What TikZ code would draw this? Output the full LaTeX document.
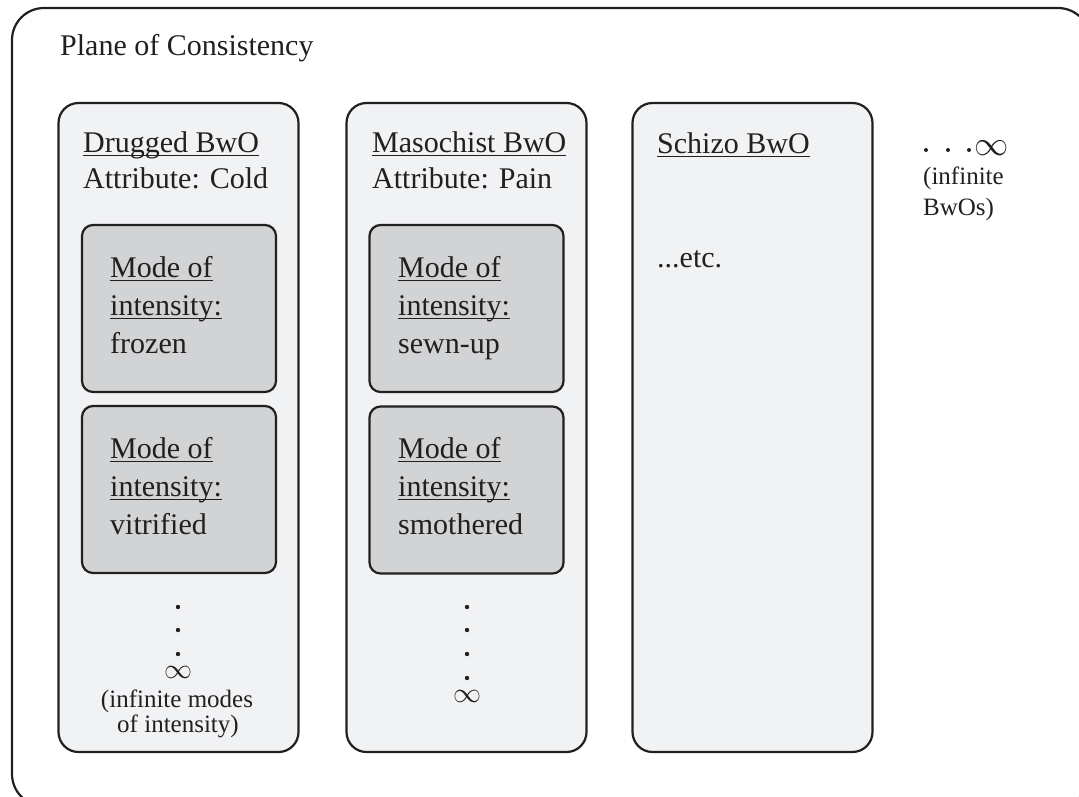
\documentclass[tikz,border=0pt]{standalone}
\usepackage{fontspec}
\setmainfont{Liberation Serif}
\usetikzlibrary{positioning}
\definecolor{ink}{HTML}{231F20}
\definecolor{bwofill}{HTML}{F1F2F4}
\definecolor{modefill}{HTML}{D1D3D4}
\newsavebox\ulbox
\newcommand\bwoul[1]{\sbox\ulbox{#1}\rlap{\color{ink}\rule[-4pt]{\wd\ulbox}{1.4pt}}\usebox\ulbox}
\newcommand\biginf[1]{\scalebox{#1}{$\infty$}}
\tikzset{
  planebox/.style={draw=ink, line width=2.2pt, rounded corners=32pt, inner sep=0pt},
  bwobox/.style={draw=ink, fill=bwofill, line width=2.2pt, rounded corners=20pt, inner sep=0pt, minimum width=240pt, minimum height=649pt},
  modebox/.style={draw=ink, fill=modefill, line width=2.2pt, rounded corners=11pt, inner sep=0pt, minimum width=194pt, minimum height=167pt},
  txt/.style={anchor=base west, inner sep=0pt, text=ink, font=\fontsize{30}{36}\selectfont},
  smalltxt/.style={txt, font=\fontsize{25}{30}\selectfont},
  inf/.style={inner sep=0pt, text=ink, font=\fontsize{20.74}{24}\selectfont},
}
\begin{document}
\begin{tikzpicture}[x=1pt, y=-1pt]
	\useasboundingbox (0,0) rectangle (1079,796);
	% plane
	\node[planebox, minimum width=1078pt, minimum height=798pt] (plane) at (551,407) {};
	\node[txt] (planetitle) at (60,55) {Plane of Consistency};
	% the three bodies
	\node[bwobox] (drugged) at (178.5,427.5) {};
	\node[bwobox] (masochist) at (466.5,427.5) {};
	\node[bwobox] (schizo) at (752.5,427.5) {};
	\node[txt] (druggedtitle) at (83,152) {\bwoul{Drugged BwO}};
	\node[txt] (druggedattr) at (83,188) {Attribute: Cold};
	\node[txt] (masochisttitle) at (372,152) {\bwoul{Masochist BwO}};
	\node[txt] (masochistattr) at (372,188) {Attribute: Pain};
	\node[txt] (schizotitle) at (657,153) {\bwoul{Schizo BwO}};
	\node[txt] (schizoetc) at (657,267) {...etc.};
	% modes of intensity
	\node[modebox] (frozen) at (179,308.5) {};
	\node[modebox] (vitrified) at (179,489.5) {};
	\node[modebox] (sewnup) at (466.5,308.5) {};
	\node[modebox] (smothered) at (466.5,490) {};
	\node[txt] (frozena) at (110,277) {\bwoul{Mode of}};
	\node[txt] (frozenb) at (110,315) {\bwoul{intensity:}};
	\node[txt] (frozenc) at (110,353) {frozen};
	\node[txt] (vitrifieda) at (110,458) {\bwoul{Mode of}};
	\node[txt] (vitrifiedb) at (110,496) {\bwoul{intensity:}};
	\node[txt] (vitrifiedc) at (110,534) {vitrified};
	\node[txt] (sewnupa) at (398,277) {\bwoul{Mode of}};
	\node[txt] (sewnupb) at (398,315) {\bwoul{intensity:}};
	\node[txt] (sewnupc) at (398,353) {sewn-up};
	\node[txt] (smothereda) at (398,458) {\bwoul{Mode of}};
	\node[txt] (smotheredb) at (398,496) {\bwoul{intensity:}};
	\node[txt] (smotheredc) at (398,534) {smothered};
	% infinite modes
	\foreach \y in {607,630,654} \fill[ink] (178,\y) circle (2.2pt);
	\node[inf] (druggedinf) at (178,672) {\biginf{1.35}};
	\node[smalltxt, anchor=base] (druggedmore) at (177,707) {(infinite modes};
	\node[smalltxt, anchor=base] (druggedmoreb) at (178,732) {of intensity)};
	\foreach \y in {607,630,654,678} \fill[ink] (467,\y) circle (2.2pt);
	\node[inf] (masochistinf) at (467,696) {\biginf{1.35}};
	% infinite bodies
	\foreach \x in {926,948,969} \fill[ink] (\x,150) circle (2pt);
	\node[inf] (moreinf) at (992,148) {\biginf{1.65}};
	\node[smalltxt] (morea) at (923,184) {(infinite};
	\node[smalltxt] (moreb) at (923,215) {BwOs)};
\end{tikzpicture}
\end{document}
